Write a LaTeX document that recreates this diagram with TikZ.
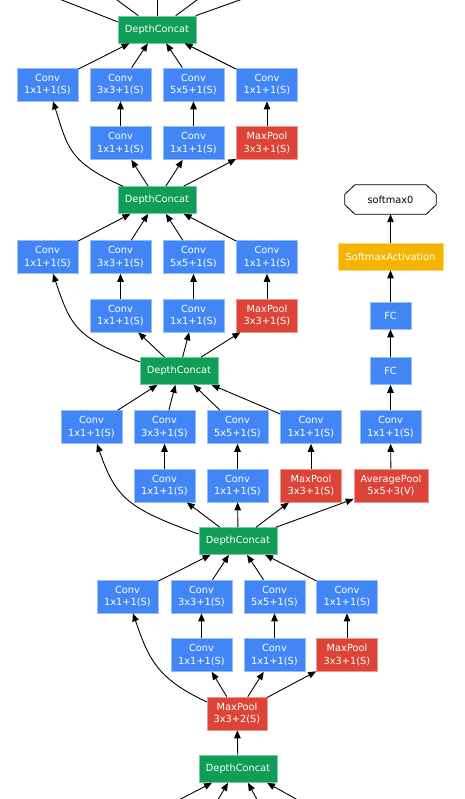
\documentclass[tikz,border=0pt]{standalone}
\usepackage{fontspec}
\setmainfont{DejaVu Sans}
\usetikzlibrary{arrows.meta,calc}
\definecolor{gblue}{HTML}{4285F4}
\definecolor{gred}{HTML}{DB4437}
\definecolor{ggreen}{HTML}{0F9D58}
\definecolor{gyellow}{HTML}{F4B400}
\begin{document}
\begin{tikzpicture}[x=1pt,y=1pt,
  box/.style={inner sep=0pt, text=white, font=\fontsize{9.8}{12.5}\selectfont, align=center, draw=#1!55!white, fill=#1, line width=0.6pt},
  conv/.style={box=gblue, minimum width=61pt, minimum height=33pt},
  pool/.style={box=gred, minimum width=61pt, minimum height=33pt},
  concat/.style={box=ggreen, minimum width=78pt, minimum height=27pt},
  fc/.style={box=gblue, minimum width=41pt, minimum height=27pt},
  act/.style={box=gyellow, minimum width=105pt, minimum height=27pt},
  arr/.style={-{Triangle[length=8pt,width=6.5pt]}, line width=0.9pt, black},
  ln/.style={line width=0.9pt, black}
]
\useasboundingbox (0,0) rectangle (464,-799);
\clip (0,0) rectangle (464,-799);

% ---- block A
\node[concat] (dca) at (157,-29.5) {DepthConcat};
\node[conv] (ua1) at (47.5,-84.5) {Conv\\1x1+1(S)};
\node[conv] (ua2) at (120.5,-84.5) {Conv\\3x3+1(S)};
\node[conv] (ua3) at (193.5,-84.5) {Conv\\5x5+1(S)};
\node[conv] (ua4) at (267,-84.5) {Conv\\1x1+1(S)};
\node[conv] (la1) at (120.5,-143) {Conv\\1x1+1(S)};
\node[conv] (la2) at (193.5,-143) {Conv\\1x1+1(S)};
\node[pool] (la3) at (267,-143) {MaxPool\\3x3+1(S)};
% ---- block B
\node[concat] (dcb) at (157,-200) {DepthConcat};
\node[conv] (ub1) at (47.5,-257) {Conv\\1x1+1(S)};
\node[conv] (ub2) at (120.5,-257) {Conv\\3x3+1(S)};
\node[conv] (ub3) at (193.5,-257) {Conv\\5x5+1(S)};
\node[conv] (ub4) at (267,-257) {Conv\\1x1+1(S)};
\node[conv] (lb1) at (120.5,-315.5) {Conv\\1x1+1(S)};
\node[conv] (lb2) at (193.5,-315.5) {Conv\\1x1+1(S)};
\node[pool] (lb3) at (267,-315.5) {MaxPool\\3x3+1(S)};
% ---- block C
\node[concat] (dcc) at (179,-371) {DepthConcat};
\node[conv] (uc1) at (91.5,-427) {Conv\\1x1+1(S)};
\node[conv] (uc2) at (164.5,-427) {Conv\\3x3+1(S)};
\node[conv] (uc3) at (237.5,-427) {Conv\\5x5+1(S)};
\node[conv] (uc4) at (311,-427) {Conv\\1x1+1(S)};
\node[conv] (lc1) at (164.5,-485.5) {Conv\\1x1+1(S)};
\node[conv] (lc2) at (237.5,-485.5) {Conv\\1x1+1(S)};
\node[pool] (lc3) at (311,-485.5) {MaxPool\\3x3+1(S)};
% ---- auxiliary head
\node[pool, minimum width=74pt] (avg) at (391,-485.5) {AveragePool\\5x5+3(V)};
\node[conv] (auxc) at (390.5,-427) {Conv\\1x1+1(S)};
\node[fc] (fc1) at (390.5,-371) {FC};
\node[fc] (fc2) at (390.5,-315.5) {FC};
\node[act] (sact) at (390.5,-256.5) {SoftmaxActivation};
\node[inner sep=0pt, minimum width=91pt, minimum height=29pt, font=\fontsize{9.8}{12.5}\selectfont] (so0) at (390.5,-199.5) {softmax0};
\draw[line width=0.8pt, black]
  ($(so0.north west)+(10,0)$) -- ($(so0.north east)+(-10,0)$) -- ($(so0.north east)+(0,-9.5)$) --
  ($(so0.south east)+(0,9.5)$) -- ($(so0.south east)+(-10,0)$) -- ($(so0.south west)+(10,0)$) --
  ($(so0.south west)+(0,9.5)$) -- ($(so0.north west)+(0,-9.5)$) -- cycle;
% ---- block D
\node[concat] (dcd) at (238,-541) {DepthConcat};
\node[conv] (ud1) at (127.5,-596.5) {Conv\\1x1+1(S)};
\node[conv] (ud2) at (201.5,-596.5) {Conv\\3x3+1(S)};
\node[conv] (ud3) at (274.5,-596.5) {Conv\\5x5+1(S)};
\node[conv] (ud4) at (347,-596.5) {Conv\\1x1+1(S)};
\node[conv] (ld1) at (201.5,-655) {Conv\\1x1+1(S)};
\node[conv] (ld2) at (274.5,-655) {Conv\\1x1+1(S)};
\node[pool] (ld3) at (347,-655) {MaxPool\\3x3+1(S)};
\node[pool, minimum width=60pt] (mp2) at (237,-713.5) {MaxPool\\3x3+2(S)};
\node[concat] (dce) at (238,-769) {DepthConcat};

% ---- free ends outside the picture
\coordinate (ta1) at (26,14);
\coordinate (ta2) at (90,20);
\coordinate (ta3) at (157,20);
\coordinate (ta4) at (224,20);
\coordinate (ta5) at (296,20);
\coordinate (b1) at (140,-820);
\coordinate (b2) at (206,-820);
\coordinate (b3) at (268,-820);
\coordinate (b4) at (334,-820);

% ---- connectors
\draw[ln] (dca.169) -- (ta1);
\draw[ln] (dca) -- (ta2);
\draw[ln] (dca) -- (ta3);
\draw[ln] (dca) -- (ta4);
\draw[ln] (dca) -- (ta5);

\foreach \u in {ua1,ua2,ua3,ua4} \draw[arr] (\u) -- (dca);
\draw[arr] (la1) -- (ua2);
\draw[arr] (la2) -- (ua3);
\draw[arr] (la3) -- (ua4);
\draw[arr] (dcb.158) .. controls +(156:60pt) and +(-72:48pt) .. (ua1.-72);
\foreach \l in {la1,la2,la3} \draw[arr] (dcb) -- (\l);

\foreach \u in {ub1,ub2,ub3,ub4} \draw[arr] (\u) -- (dcb);
\draw[arr] (lb1) -- (ub2);
\draw[arr] (lb2) -- (ub3);
\draw[arr] (lb3) -- (ub4);
\draw[arr] (dcc.167) .. controls +(159:70pt) and +(-71:55pt) .. (ub1.-72);
\foreach \l in {lb1,lb2,lb3} \draw[arr] (dcc) -- (\l);

\foreach \u in {uc1,uc2,uc3,uc4} \draw[arr] (\u) -- (dcc);
\draw[arr] (lc1) -- (uc2);
\draw[arr] (lc2) -- (uc3);
\draw[arr] (lc3) -- (uc4);
\draw[arr] (dcd.170) .. controls +(160:75pt) and +(-71:58pt) .. (uc1.-72);
\foreach \l in {lc1,lc2,lc3,avg} \draw[arr] (dcd) -- (\l);

\draw[arr] (avg) -- (auxc);
\draw[arr] (auxc) -- (fc1);
\draw[arr] (fc1) -- (fc2);
\draw[arr] (fc2) -- (sact);
\draw[arr] (sact) -- (so0);

\foreach \u in {ud1,ud2,ud3,ud4} \draw[arr] (\u) -- (dcd);
\draw[arr] (ld1) -- (ud2);
\draw[arr] (ld2) -- (ud3);
\draw[arr] (ld3) -- (ud4);
\draw[arr] (mp2.159) .. controls +(155:55pt) and +(-71:48pt) .. (ud1.-72);
\foreach \l in {ld1,ld2,ld3} \draw[arr] (mp2) -- (\l);

\draw[arr] (dce) -- (mp2);
\draw[arr] (b1) -- ([xshift=-26pt]dce.south);
\draw[arr] (b2) -- ([xshift=-10pt]dce.south);
\draw[arr] (b3) -- ([xshift=10pt]dce.south);
\draw[arr] (b4) -- ([xshift=29pt]dce.south);
\end{tikzpicture}
\end{document}
